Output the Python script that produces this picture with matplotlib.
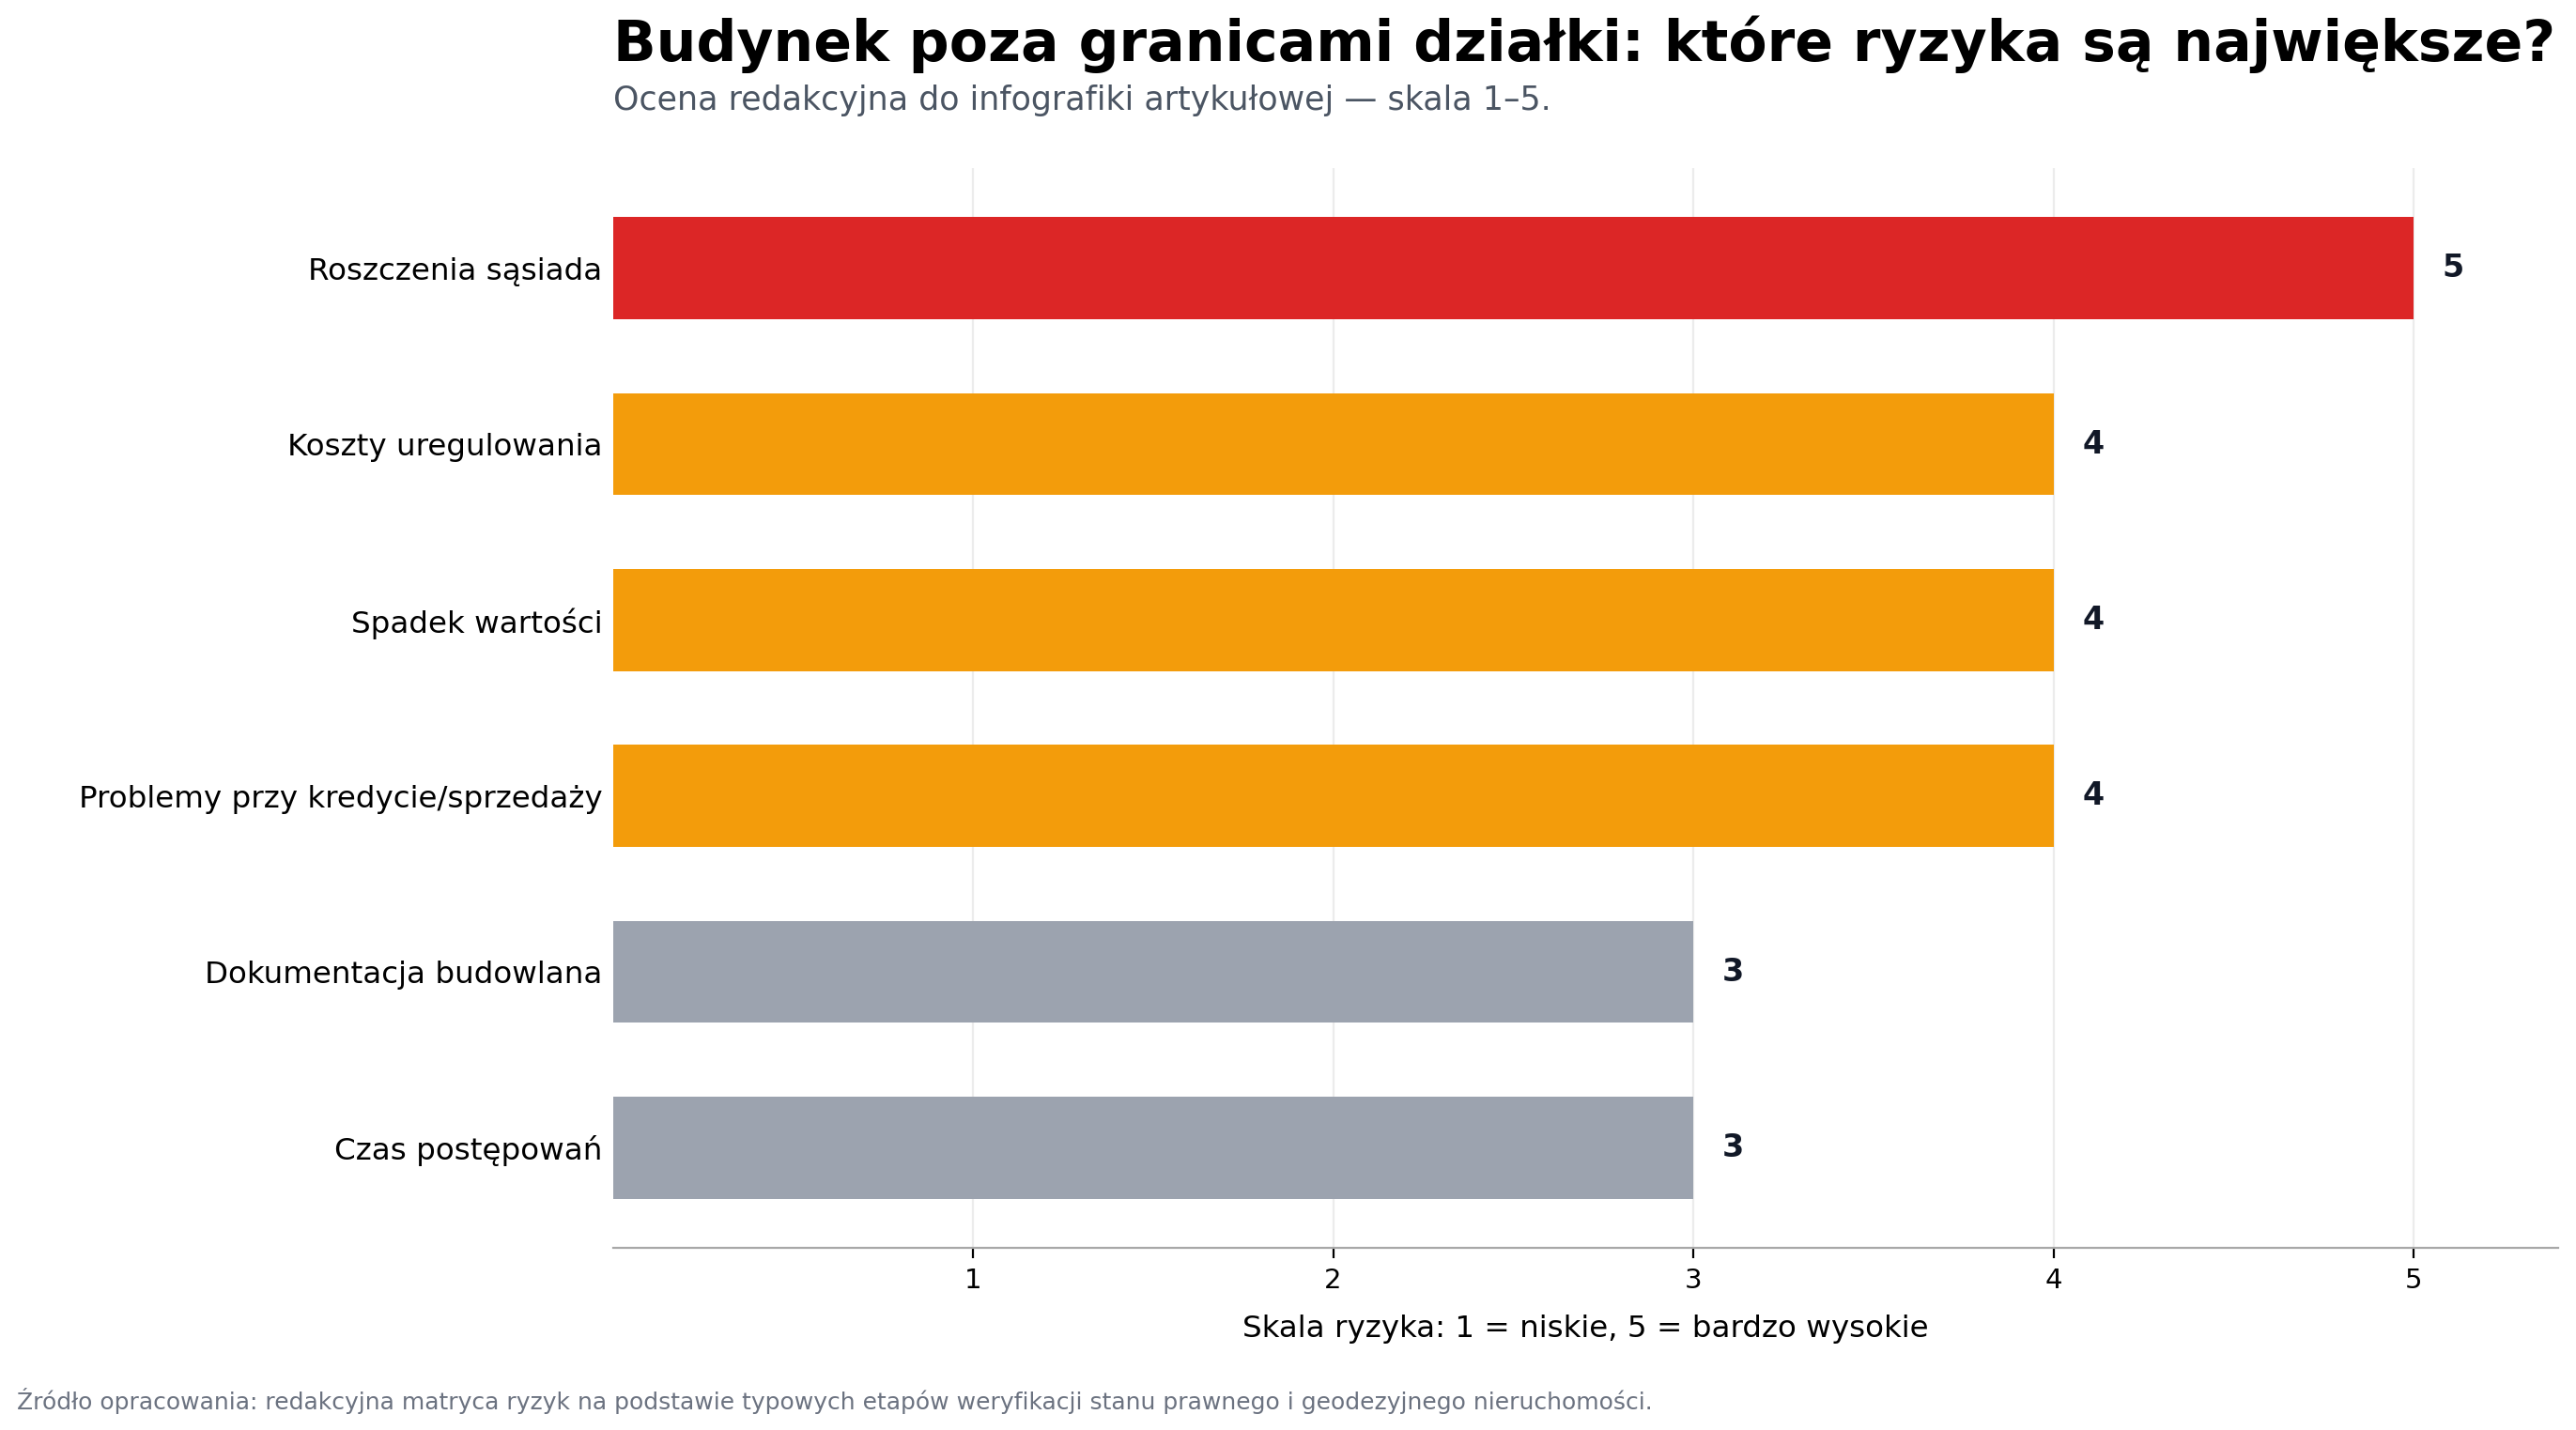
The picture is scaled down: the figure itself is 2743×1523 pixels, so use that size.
import matplotlib.pyplot as plt

categories = [
    "Roszczenia sąsiada",
    "Koszty uregulowania",
    "Spadek wartości",
    "Problemy przy kredycie/sprzedaży",
    "Dokumentacja budowlana",
    "Czas postępowań",
]
scores = [5, 4, 4, 4, 3, 3]
colors = ["#dc2626", "#f39c0b", "#f39c0b", "#f39c0b", "#9ca3af", "#9ca3af"]

title = "Budynek poza granicami działki: które ryzyka są największe?"
subtitle = "Ocena redakcyjna do infografiki artykułowej — skala 1–5."
xlabel = "Skala ryzyka: 1 = niskie, 5 = bardzo wysokie"
source = ("Źródło opracowania: redakcyjna matryca ryzyk na podstawie typowych etapów "
          "weryfikacji stanu prawnego i geodezyjnego nieruchomości.")

fig = plt.figure(figsize=(13.715, 7.615), dpi=200)
ax = fig.add_axes([0.2379, 0.1274, 0.755, 0.755])

y = list(range(len(categories)))
ax.barh(y, scores, height=0.58, color=colors, zorder=3)
ax.invert_yaxis()
ax.set_yticks(y)
ax.set_yticklabels(categories, fontsize=11.7)
ax.tick_params(axis="y", length=0, pad=4)
ax.tick_params(axis="x", labelsize=10.5, length=4)
ax.set_xlim(0, 5.4)
ax.set_xticks([1, 2, 3, 4, 5])
ax.set_xlabel(xlabel, fontsize=11.7, labelpad=8)
ax.grid(axis="x", color="#ececec", linewidth=0.8, zorder=0)

for s in ["top", "right", "left"]:
    ax.spines[s].set_visible(False)
ax.spines["bottom"].set_color("#a8a8a8")

for yi, v in zip(y, scores):
    ax.text(v + 0.08, yi, str(v), va="center", ha="left", fontsize=12,
            fontweight="bold", color="#111827")

fig.text(0.2379, 0.969, title, fontsize=21.6, fontweight="bold", ha="left", va="center")
fig.text(0.2379, 0.930, subtitle, fontsize=12.55, color="#4b5563", ha="left", va="center")
fig.text(0.0064, 0.0205, source, fontsize=9, color="#6b7280", ha="left", va="center")

fig.savefig("out.png", dpi=200)
